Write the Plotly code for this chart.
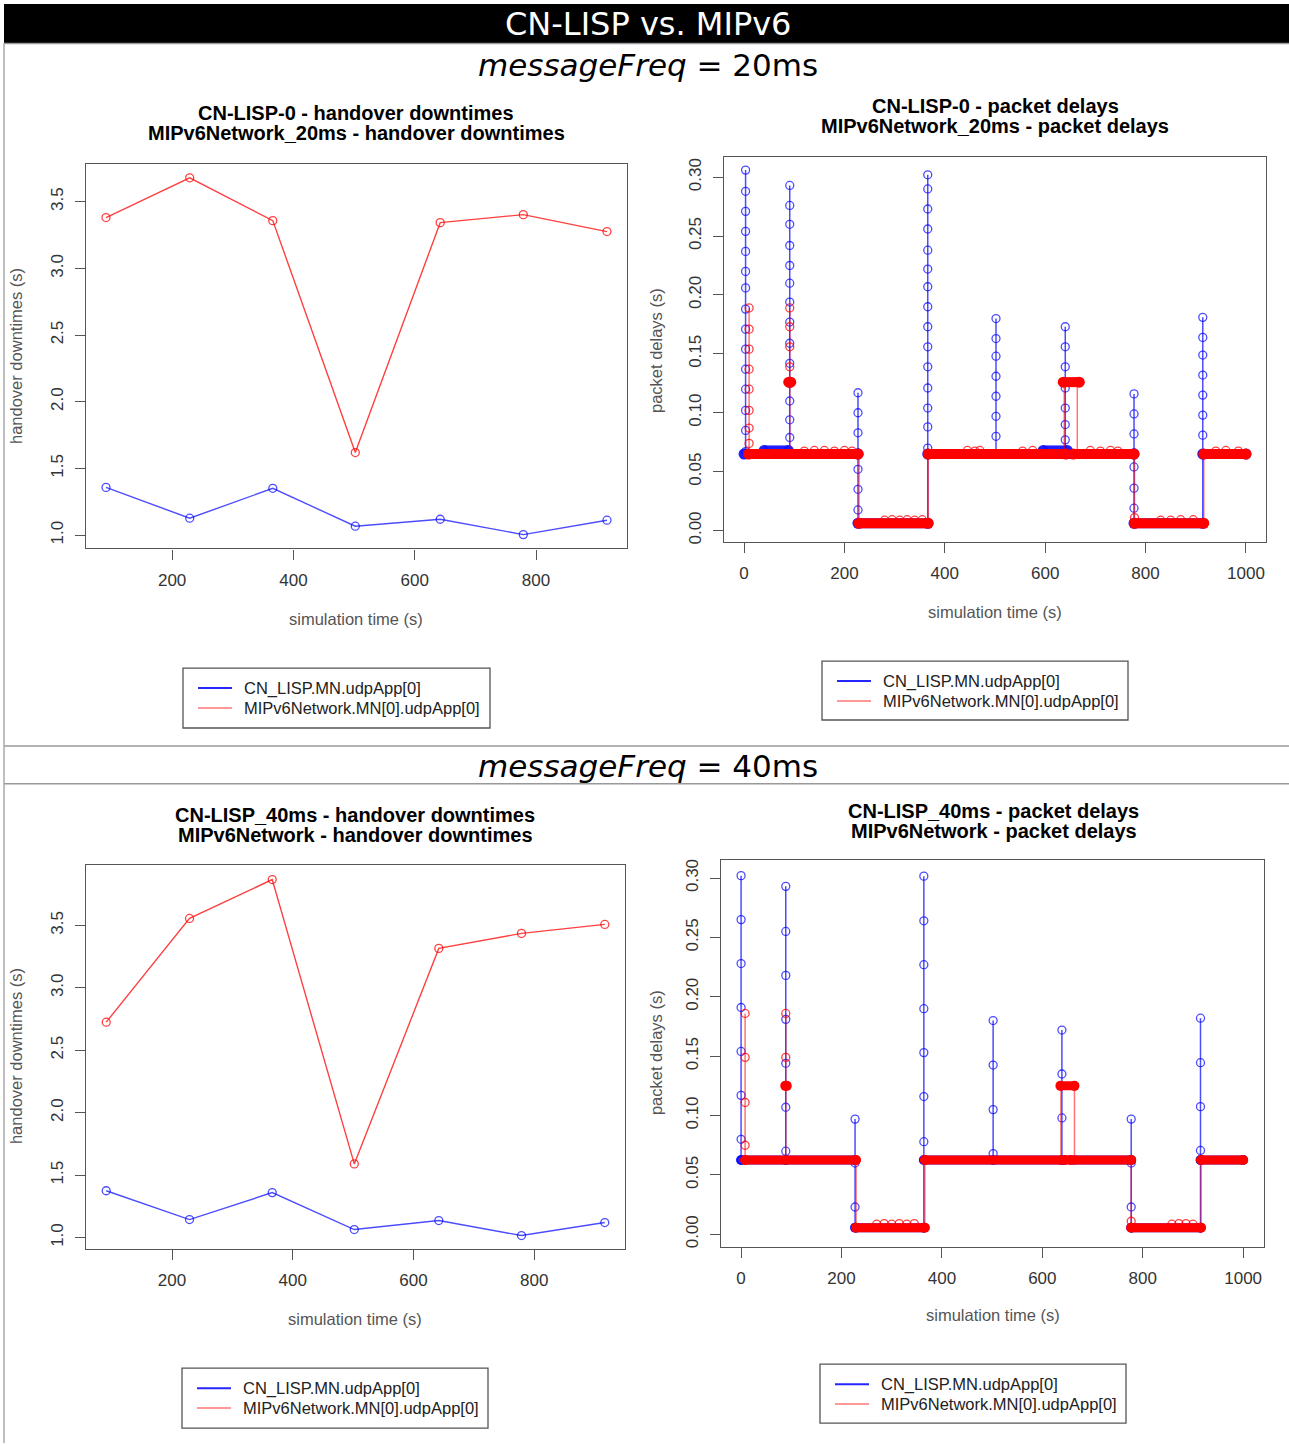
import plotly.graph_objects as go

W, H = 1289, 1446

# ---------------- handover downtimes (s) at each handover instant ----------------
HANDOVER_T = [91, 229, 366, 502, 642, 779, 917]
DOWN20_LISP = [1.358, 1.127, 1.351, 1.067, 1.119, 1.004, 1.112]
DOWN20_MIP = [3.381, 3.679, 3.358, 1.619, 3.343, 3.403, 3.276]
DOWN40_LISP = [1.375, 1.144, 1.360, 1.064, 1.136, 1.016, 1.120]
DOWN40_MIP = [2.725, 3.556, 3.867, 1.590, 3.316, 3.436, 3.508]

# ---------------- packet delays, messageFreq = 20 ms ----------------
# steady delay plateaus: (start s, end s, delay s)
DELAY20_LISP_LEVELS = [(0, 227, 0.065), (40, 88, 0.068), (227, 366, 0.0062),
                       (366, 777, 0.065), (596, 644, 0.068), (777, 914, 0.0062),
                       (914, 1000, 0.065)]
DELAY20_MIP_LEVELS = [(9, 227, 0.065), (89, 93, 0.126), (229, 367, 0.0062),
                      (367, 641, 0.065), (636, 668, 0.126), (656, 777, 0.065),
                      (778, 916, 0.0062), (916, 1000, 0.065)]
# buffered packets released after a handover: (time s, successive delays s)
DELAY20_LISP_BURSTS = [
    (3, [0.306, 0.288, 0.271, 0.254, 0.237, 0.220, 0.206, 0.188, 0.171, 0.154,
         0.137, 0.120, 0.102, 0.085, 0.067]),
    (91, [0.065, 0.293, 0.276, 0.260, 0.242, 0.225, 0.210, 0.194, 0.177, 0.159,
          0.142, 0.125, 0.110, 0.094, 0.079, 0.065]),
    (227, [0.065, 0.117, 0.100, 0.083, 0.066, 0.052, 0.035, 0.0175, 0.0062]),
    (366, [0.0062, 0.302, 0.290, 0.273, 0.256, 0.238, 0.222, 0.207, 0.190, 0.173,
           0.156, 0.139, 0.121, 0.104, 0.088, 0.070, 0.065]),
    (502, [0.065, 0.180, 0.163, 0.148, 0.131, 0.114, 0.097, 0.080, 0.065]),
    (640, [0.065, 0.173, 0.156, 0.139, 0.121, 0.104, 0.090, 0.077, 0.065]),
    (777, [0.065, 0.116, 0.099, 0.082, 0.066, 0.054, 0.036, 0.019, 0.0062]),
    (914, [0.0062, 0.181, 0.164, 0.149, 0.132, 0.115, 0.098, 0.081, 0.065]),
]
DELAY20_MIP_BURSTS = [
    (10, [0.189, 0.171, 0.154, 0.137, 0.120, 0.102, 0.087, 0.074, 0.065]),
    (91, [0.065, 0.189, 0.173, 0.156, 0.139, 0.126, 0.065]),
    (229, [0.065, 0.0062]),
    (367, [0.0062, 0.065]),
    (638, [0.065, 0.126]),
    (664, [0.126, 0.065]),
    (778, [0.065, 0.011, 0.0062]),
    (916, [0.0062, 0.065]),
]
DELAY20_MIP_JITTER_T = [120, 140, 160, 180, 200, 215, 280, 295, 310, 325, 340, 355,
                        445, 460, 470, 555, 575, 690, 710, 730, 745, 830, 850, 870,
                        895, 940, 960, 985]
DELAY20_MIP_JITTER_D = [0.0675, 0.068, 0.068, 0.0675, 0.068, 0.0675, 0.0088, 0.0092,
                        0.0088, 0.0092, 0.0088, 0.0092, 0.068, 0.0675, 0.068, 0.0675,
                        0.068, 0.068, 0.0675, 0.068, 0.0675, 0.0088, 0.0088, 0.0092,
                        0.0092, 0.0675, 0.068, 0.0675]

# ---------------- packet delays, messageFreq = 40 ms ----------------
DELAY40_LISP_LEVELS = [(0, 227, 0.0625), (227, 364, 0.0056), (364, 777, 0.0625),
                       (777, 915, 0.0056), (915, 1000, 0.0625)]
DELAY40_MIP_LEVELS = [(8, 229, 0.0625), (88, 91, 0.125), (229, 366, 0.0056),
                      (366, 645, 0.0625), (636, 664, 0.125), (656, 777, 0.0625),
                      (777, 916, 0.0056), (916, 1000, 0.0625)]
DELAY40_LISP_BURSTS = [
    (0, [0.302, 0.265, 0.228, 0.191, 0.154, 0.117, 0.080, 0.0625]),
    (89, [0.0625, 0.293, 0.255, 0.218, 0.181, 0.144, 0.107, 0.070, 0.0625]),
    (227, [0.0625, 0.097, 0.060, 0.023, 0.0056]),
    (364, [0.0056, 0.3016, 0.264, 0.227, 0.190, 0.153, 0.116, 0.078, 0.0625]),
    (502, [0.0625, 0.180, 0.1425, 0.105, 0.068, 0.0625]),
    (639, [0.0625, 0.172, 0.135, 0.098, 0.0625]),
    (777, [0.0625, 0.097, 0.060, 0.023, 0.0056]),
    (915, [0.0056, 0.182, 0.1445, 0.1075, 0.0706, 0.0625]),
]
DELAY40_MIP_BURSTS = [
    (8, [0.186, 0.149, 0.111, 0.075, 0.0625]),
    (89, [0.0625, 0.186, 0.149, 0.125]),
    (229, [0.0625, 0.0056]),
    (366, [0.0056, 0.0625]),
    (637, [0.0625, 0.125]),
    (664, [0.125, 0.0625]),
    (777, [0.0625, 0.011, 0.0056]),
    (916, [0.0056, 0.0625]),
]
DELAY40_MIP_JITTER_T = [270, 285, 300, 315, 330, 345, 858, 872, 886, 900]
DELAY40_MIP_JITTER_D = [0.0085, 0.009, 0.0085, 0.009, 0.0085, 0.009, 0.0085, 0.009,
                        0.009, 0.0085]

SERIES_LISP = "CN_LISP.MN.udpApp[0]"
SERIES_MIP = "MIPv6Network.MN[0].udpApp[0]"

BLUE = "rgba(0,0,255,0.7)"
BLUE_BAND = "rgba(20,20,255,0.95)"
RED = "rgba(255,0,0,0.75)"
RED_SPIKE = "rgba(255,0,0,0.55)"
RED_BAND = "rgba(255,0,0,1)"
BOX = "#555555"
SANS = "Liberation Sans, Arial, sans-serif"
VERD = "Verdana, DejaVu Sans, sans-serif"


def px(x):
    return x / W


def py(y):
    return 1 - y / H


def band_xy(levels):
    xs, ys = [], []
    for t0, t1, v in levels:
        xs += [t0, t1, None]
        ys += [v, v, None]
    return xs, ys


def burst_xy(bursts):
    xs, ys = [], []
    for t, vals in bursts:
        xs += [t] * len(vals) + [None]
        ys += list(vals) + [None]
    return xs, ys


fig = go.Figure()

# --- handover downtime panels ---
for ax, lisp, mip in [("", DOWN20_LISP, DOWN20_MIP), ("3", DOWN40_LISP, DOWN40_MIP)]:
    for vals, col in [(lisp, BLUE), (mip, RED)]:
        fig.add_trace(go.Scatter(
            x=HANDOVER_T, y=vals, mode="lines+markers",
            xaxis="x" + ax, yaxis="y" + ax,
            line=dict(color=col, width=1.4),
            marker=dict(symbol="circle-open", size=8, color=col, line=dict(width=1.3)),
            hoverinfo="x+y"))

# --- packet delay panels ---
delay_sets = [
    ("2", DELAY20_LISP_LEVELS, DELAY20_LISP_BURSTS, DELAY20_MIP_LEVELS,
     DELAY20_MIP_BURSTS, DELAY20_MIP_JITTER_T, DELAY20_MIP_JITTER_D, 10),
    ("4", DELAY40_LISP_LEVELS, DELAY40_LISP_BURSTS, DELAY40_MIP_LEVELS,
     DELAY40_MIP_BURSTS, DELAY40_MIP_JITTER_T, DELAY40_MIP_JITTER_D, 9),
]
for ax, l_lev, l_bur, m_lev, m_bur, jt, jd, bw in delay_sets:
    xa, ya = "x" + ax, "y" + ax
    bx, by = band_xy(l_lev)
    fig.add_trace(go.Scatter(x=bx, y=by, xaxis=xa, yaxis=ya, mode="lines+markers",
                             line=dict(color=BLUE_BAND, width=bw),
                             marker=dict(symbol="circle", size=bw + 1, color=BLUE_BAND)))
    sx, sy = burst_xy(l_bur)
    fig.add_trace(go.Scatter(x=sx, y=sy, xaxis=xa, yaxis=ya, mode="lines+markers",
                             line=dict(color=BLUE, width=1.5),
                             marker=dict(symbol="circle-open", size=8, color=BLUE,
                                         line=dict(width=1.3))))
    bx, by = band_xy(m_lev)
    fig.add_trace(go.Scatter(x=bx, y=by, xaxis=xa, yaxis=ya, mode="lines+markers",
                             line=dict(color=RED_BAND, width=bw),
                             marker=dict(symbol="circle", size=bw + 1, color=RED_BAND)))
    sx, sy = burst_xy(m_bur)
    fig.add_trace(go.Scatter(x=sx, y=sy, xaxis=xa, yaxis=ya, mode="lines+markers",
                             line=dict(color=RED_SPIKE, width=1.5),
                             marker=dict(symbol="circle-open", size=8, color=RED,
                                         line=dict(width=1.3))))
    fig.add_trace(go.Scatter(x=jt, y=jd, xaxis=xa, yaxis=ya, mode="markers",
                             marker=dict(symbol="circle-open", size=8, color=RED,
                                         line=dict(width=1.3))))


def xaxis(dom, rng, ticks, fmt):
    return dict(domain=[px(dom[0]), px(dom[1])], range=rng, tickvals=ticks,
                tickformat=fmt, showline=True, mirror=True, linecolor=BOX,
                linewidth=1.4, ticks="outside", ticklen=10, tickwidth=1.4,
                tickcolor=BOX, showgrid=False, zeroline=False,
                tickfont=dict(family=SANS, size=17, color="#333"),
                ticklabelstandoff=6, fixedrange=True)


def yaxis(dom, rng, ticks, fmt, anchor):
    return dict(domain=[py(dom[1]), py(dom[0])], range=rng, tickvals=ticks,
                tickformat=fmt, tickangle=-90, anchor=anchor, showline=True,
                mirror=True, linecolor=BOX, linewidth=1.4, ticks="outside",
                ticklen=10, tickwidth=1.4, tickcolor=BOX, showgrid=False,
                zeroline=False, tickfont=dict(family=SANS, size=17, color="#333"),
                ticklabelstandoff=5, fixedrange=True)


DOWN_TICKS = [1.0, 1.5, 2.0, 2.5, 3.0, 3.5]
DELAY_TICKS = [0, 0.05, 0.10, 0.15, 0.20, 0.25, 0.30]
T_TICKS_DOWN = [200, 400, 600, 800]
T_TICKS_DELAY = [0, 200, 400, 600, 800, 1000]

fig.update_layout(
    width=W, height=H, margin=dict(l=0, r=0, t=0, b=0),
    paper_bgcolor="white", plot_bgcolor="white", showlegend=False,
    xaxis=dict(xaxis((86, 627), [58, 950], T_TICKS_DOWN, "d"), anchor="y"),
    yaxis=yaxis((163, 549), [0.90, 3.786], DOWN_TICKS, ".1f", "x"),
    xaxis2=dict(xaxis((724, 1266), [-40, 1040], T_TICKS_DELAY, "d"), anchor="y2"),
    yaxis2=yaxis((156, 542), [-0.0093, 0.3175], DELAY_TICKS, ".2f", "x2"),
    xaxis3=dict(xaxis((86, 625), [57.5, 950.5], T_TICKS_DOWN, "d"), anchor="y3"),
    yaxis3=yaxis((866, 1251), [0.912, 3.987], DOWN_TICKS, ".1f", "x3"),
    xaxis4=dict(xaxis((721, 1264), [-40, 1041.5], T_TICKS_DELAY, "d"), anchor="y4"),
    yaxis4=yaxis((861, 1249), [-0.0103, 0.3155], DELAY_TICKS, ".2f", "x4"),
)

shapes = []
annotations = []


def text(x, y, s, size, family=SANS, color="#000", angle=0, bold=False):
    annotations.append(dict(
        x=px(x), y=py(y), xref="paper", yref="paper", text=f"<b>{s}</b>" if bold else s,
        showarrow=False, xanchor="center", yanchor="middle", textangle=angle,
        font=dict(family=family, size=size, color=color)))


# page header and section frames
shapes.append(dict(type="rect", xref="paper", yref="paper", x0=px(4), x1=1,
                   y0=py(42), y1=py(3), fillcolor="black", line=dict(width=0)))
for y in (42.5, 747, 785):
    shapes.append(dict(type="line", xref="paper", yref="paper", x0=px(4), x1=1,
                       y0=py(y), y1=py(y), line=dict(color="#999", width=1.5)))
shapes.append(dict(type="line", xref="paper", yref="paper", x0=px(4), x1=px(4),
                   y0=py(42), y1=0, line=dict(color="#aaa", width=1.5)))

text(647.5, 23, "CN-LISP vs. MIPv6", 32, VERD, "white")
text(647.5, 64, "<i>messageFreq</i> = 20ms", 31, VERD, "black")
text(647.5, 767, "<i>messageFreq</i> = 40ms", 31, VERD, "black")

# panel titles
text(356, 112, "CN-LISP-0 - handover downtimes", 20, bold=True)
text(356, 132, "MIPv6Network_20ms - handover downtimes", 20, bold=True)
text(995, 105, "CN-LISP-0 - packet delays", 20, bold=True)
text(995, 125, "MIPv6Network_20ms - packet delays", 20, bold=True)
text(355, 816, "CN-LISP_40ms - handover downtimes", 20, bold=True)
text(355, 836, "MIPv6Network - handover downtimes", 20, bold=True)
text(993.5, 812, "CN-LISP_40ms - packet delays", 20, bold=True)
text(993.5, 832, "MIPv6Network - packet delays", 20, bold=True)

# axis titles
AX_COL = "#555"
text(356, 620, "simulation time (s)", 16.5, color=AX_COL)
text(995, 613, "simulation time (s)", 16.5, color=AX_COL)
text(355, 1322, "simulation time (s)", 16.5, color=AX_COL)
text(993, 1318, "simulation time (s)", 16.5, color=AX_COL)
text(16, 356, "handover downtimes (s)", 16.5, color=AX_COL, angle=-90)
text(16, 1058, "handover downtimes (s)", 16.5, color=AX_COL, angle=-90)
text(656, 351, "packet delays (s)", 16.5, color=AX_COL, angle=-90)
text(656, 1055, "packet delays (s)", 16.5, color=AX_COL, angle=-90)

# legend boxes under each panel
for (x0, y0, x1, y1) in [(183, 669, 490, 729), (822, 662, 1128, 721),
                         (182, 1371, 488, 1431), (820, 1367, 1126, 1426)]:
    shapes.append(dict(type="rect", xref="paper", yref="paper", x0=px(x0), x1=px(x1),
                       y0=py(y1), y1=py(y0), line=dict(color=BOX, width=1.3),
                       fillcolor="white"))
    for k, (name, col) in enumerate([(SERIES_LISP, "rgba(0,0,255,0.85)"),
                                     (SERIES_MIP, "rgba(255,0,0,0.4)")]):
        ly = y0 + 20 + 20 * k
        shapes.append(dict(type="line", xref="paper", yref="paper",
                           x0=px(x0 + 15), x1=px(x0 + 49), y0=py(ly), y1=py(ly),
                           line=dict(color=col, width=2)))
        annotations.append(dict(x=px(x0 + 59), y=py(ly), xref="paper", yref="paper",
                                text=name, showarrow=False, xanchor="left",
                                yanchor="middle",
                                font=dict(family=SANS, size=16.5, color="#222")))

fig.update_layout(shapes=shapes, annotations=annotations)
fig.write_html("out.html")
